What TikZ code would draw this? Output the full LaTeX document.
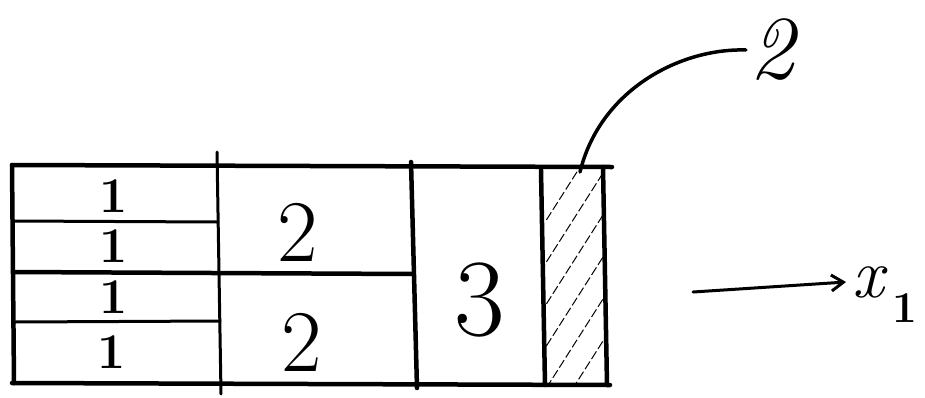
\documentclass[tikz,border=0pt]{standalone}
\usetikzlibrary{arrows.meta}
\begin{document}
\begin{tikzpicture}[x=1pt,y=-1pt,
  thickline/.style={line width=4.5pt,line cap=round},
  thinline/.style={line width=3pt,line cap=round},
  hatchline/.style={line width=1pt,dash pattern=on 9pt off 3pt},
  one/.style={font=\fontsize{50}{50}\selectfont\bfseries,inner sep=0pt},
  two/.style={font=\fontsize{88}{88}\selectfont},
  three/.style={font=\fontsize{110}{110}\selectfont}]
\useasboundingbox (0,0) rectangle (925,397);
% outer frame
\draw[thickline] (12,165) -- (612,167);
\draw[thickline] (12,383) -- (610,385);
\draw[thickline] (12,165) -- (14,383);
\draw[thickline] (603,167) -- (607,385);
% vertical dividers
\draw[thinline] (217,152) -- (221,394);
\draw[thickline] (411,162) -- (417,388);
\draw[thickline] (541,170) -- (545,385);
% horizontal dividers
\draw[thinline] (14,221) -- (218,222);
\draw[thickline] (13,272) -- (413,274);
\draw[thinline] (14,322) -- (220,321);
% hatching
\begin{scope}
\clip (545,169) rectangle (604,384);
\foreach \k in {0,...,7}
  \draw[hatchline] (540,{230+\k*42}) -- (610,{120+\k*42});
\end{scope}
% labels
\node[one] (a1) at (114,196) {1};
\node[one] (a2) at (114,246) {1};
\node[one] (a3) at (114,297) {1};
\node[one] (a4) at (112,352) {1};
\node[two] (b1) at (298,232) {2};
\node[two] (b2) at (302,342) {2};
\node[three] (c) at (480,300) {3};
\node[font=\fontsize{90}{90}\selectfont\itshape] (lab) at (772,50) {2};
\coordinate (foot) at (580,172);
\draw[thickline,line width=3.5pt] (foot) .. controls (600,90) and (680,48) .. (lab.west);
% axis arrow
\coordinate (ax0) at (693,292);
\node[font=\fontsize{70}{70}\selectfont\itshape,inner sep=0pt] (x1) at (868,282) {x};
\node[font=\fontsize{44}{44}\selectfont\bfseries,inner sep=0pt] (sub) at (905,308) {1};
\draw[thinline,-{Straight Barb[length=12pt,width=16pt,line width=3pt]}] (ax0) -- ([xshift=-6pt]x1.west);
\end{tikzpicture}
\end{document}
